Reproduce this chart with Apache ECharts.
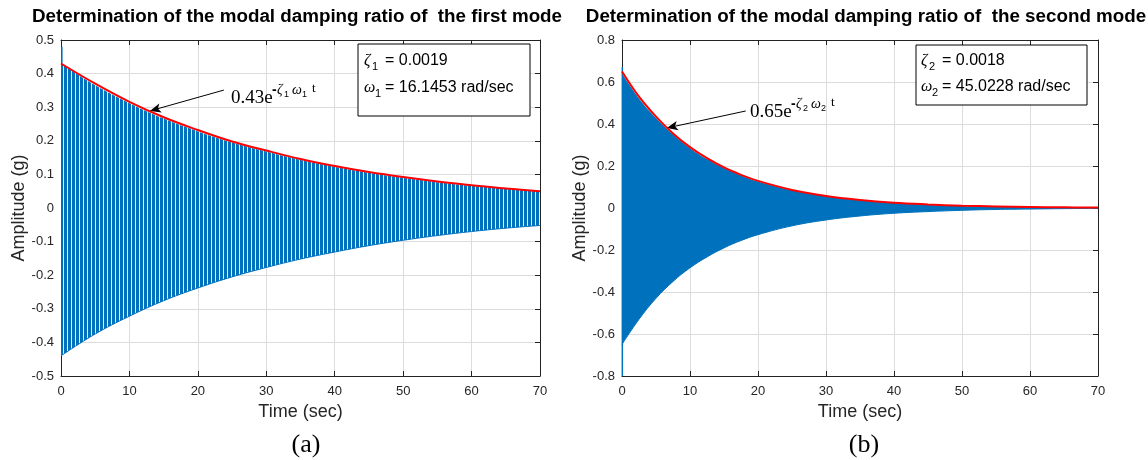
<!DOCTYPE html>
<html>
<head>
<meta charset="utf-8">
<script src="https://cdn.jsdelivr.net/npm/echarts@6/dist/echarts.min.js"></script>
<style>
  html, body { margin: 0; padding: 0; background: #fff; }
  #chart { width: 1148px; height: 460px; }
</style>
</head>
<body>
<div id="chart"></div>
<script>
// (a) first mode - envelope every 5 s
const timeA = [0, 5, 10, 15, 20, 25, 30, 35, 40, 45, 50, 55, 60, 65, 70]
const upperA = [0.43, 0.365, 0.312, 0.266, 0.228, 0.195, 0.168, 0.143, 0.123, 0.105, 0.09, 0.077, 0.066, 0.057, 0.049]
const lowerA = [-0.44, -0.375, -0.322, -0.276, -0.238, -0.205, -0.177, -0.152, -0.131, -0.112, -0.096, -0.082, -0.07, -0.06, -0.052]
const fitA = [0.43, 0.37, 0.316, 0.27, 0.232, 0.198, 0.171, 0.146, 0.125, 0.107, 0.092, 0.079, 0.068, 0.058, 0.05]
const spikeTimeA = [0.12, 0.12]
const spikeValA = [-0.21, 0.48]

// (b) second mode
const timeB = [0, 2.5, 5, 7.5, 10, 12.5, 15, 17.5, 20, 25, 30, 35, 40, 45, 50, 55, 60, 65, 70]
const upperB = [0.64, 0.522, 0.428, 0.35, 0.285, 0.233, 0.19, 0.155, 0.126, 0.084, 0.056, 0.037, 0.024, 0.016, 0.01, 0.007, 0.0045, 0.003, 0.002]
const lowerB = [-0.65, -0.53, -0.43, -0.35, -0.285, -0.233, -0.19, -0.155, -0.127, -0.085, -0.057, -0.038, -0.025, -0.017, -0.011, -0.007, -0.005, -0.003, -0.002]
const fitB = [0.65, 0.53, 0.435, 0.355, 0.29, 0.237, 0.193, 0.158, 0.129, 0.086, 0.057, 0.038, 0.025, 0.017, 0.011, 0.0075, 0.005, 0.0033, 0.0022]
const spikeTimeB = [0.05, 0.05]
const spikeValB = [-0.8, 0.67]

const BLUE = '#0072bd'
const AXIS = '#222'
const GRID = '#dcdcdc'
const SANS = '"Liberation Sans", Arial, sans-serif'
const SERIF = '"Liberation Serif", "Times New Roman", serif'

function pairs(ts, vs) {
  return ts.map((t, i) => [t, vs[i]])
}

// dense oscillation of mode 1 shows up as thin vertical stripes
function stripes() {
  const c = document.createElement('canvas')
  c.width = 4
  c.height = 4
  const ctx = c.getContext('2d')
  ctx.fillStyle = '#eaf2fa'
  ctx.fillRect(0, 0, 4, 4)
  ctx.fillStyle = BLUE
  ctx.fillRect(0, 0, 3, 4)
  return c
}

function xAxes(grid, withName) {
  const base = {
    gridIndex: grid, type: 'value', min: 0, max: 70, interval: 10,
    axisLine: { onZero: false, lineStyle: { color: AXIS, width: 1 } },
    axisTick: { inside: true, length: 5, lineStyle: { color: AXIS } },
  }
  return [
    Object.assign({}, base, {
      position: 'bottom',
      name: withName, nameLocation: 'middle', nameGap: 27,
      nameTextStyle: { fontFamily: SANS, fontSize: 18, color: '#262626' },
      axisLabel: { fontFamily: SANS, fontSize: 13, color: '#262626', margin: 9 },
      splitLine: { show: true, lineStyle: { color: GRID } },
    }),
    Object.assign({}, base, {
      position: 'top', axisLabel: { show: false }, splitLine: { show: false },
    }),
  ]
}

function yAxes(grid, min, max, step) {
  const base = {
    gridIndex: grid, type: 'value', min: min, max: max, interval: step,
    axisLine: { onZero: false, lineStyle: { color: AXIS, width: 1 } },
    axisTick: { inside: true, length: 5, lineStyle: { color: AXIS } },
  }
  return [
    Object.assign({}, base, {
      position: 'left',
      name: 'Amplitude (g)', nameLocation: 'middle', nameGap: 33,
      nameTextStyle: { fontFamily: SANS, fontSize: 18, color: '#262626' },
      axisLabel: { fontFamily: SANS, fontSize: 13, color: '#262626', margin: 7 },
      splitLine: { show: true, lineStyle: { color: GRID } },
    }),
    Object.assign({}, base, {
      position: 'right', axisLabel: { show: false }, splitLine: { show: false },
    }),
  ]
}

function txt(x, y, text, font, align) {
  return {
    type: 'text', x: x, y: y, z: 100,
    style: {
      text: text, font: font, fill: '#000',
      align: align || 'left', verticalAlign: 'middle',
      textAlign: align || 'left', textVerticalAlign: 'middle',
    },
  }
}

// "ζ1 = 0.0019" style line inside the text box
function greekLine(x, y, greek, subDx, sub, rest) {
  return [
    txt(x, y, greek, 'italic 16px ' + SERIF),
    txt(x + subDx, y + 6, sub, '11px ' + SANS),
    txt(x + 21, y, rest, '16px ' + SANS),
  ]
}

// "0.43e^{-ζ1 ω1 t}" label next to the arrow
function expLabel(x, y, coef, sub) {
  return [
    txt(x, y, coef, '19px ' + SERIF),
    txt(x + 41, y - 8, '-', 'bold 14px ' + SANS),
    txt(x + 46, y - 8, 'ζ', 'italic 14px ' + SERIF),
    txt(x + 53, y - 3, sub, '9px ' + SANS),
    txt(x + 61, y - 8, 'ω', 'italic 14px ' + SERIF),
    txt(x + 71, y - 3, sub, '9px ' + SANS),
    txt(x + 81, y - 9, 't', '13px ' + SERIF),
  ]
}

function box(x, y, w, h) {
  return {
    type: 'rect', z: 99,
    shape: { x: x, y: y, width: w, height: h },
    style: { fill: '#fff', stroke: '#000', lineWidth: 1 },
  }
}

function arrow(from, to) {
  return {
    silent: true,
    symbol: ['none', 'arrow'],
    symbolSize: [7, 11],
    label: { show: false },
    lineStyle: { color: '#000', width: 1, type: 'solid' },
    data: [[{ coord: from }, { coord: to }]],
  }
}

const chart = echarts.init(document.getElementById('chart'))
const pat = { image: stripes(), repeat: 'repeat' }

const option = {
  animation: false,
  backgroundColor: '#fff',
  grid: [
    { left: 61, top: 40, width: 479, height: 336 },
    { left: 622, top: 40, width: 476, height: 336 },
  ],
  xAxis: xAxes(0, 'Time (sec)').concat(xAxes(1, 'Time (sec)')),
  yAxis: yAxes(0, -0.5, 0.5, 0.1).concat(yAxes(1, -0.8, 0.8, 0.2)),
  series: [
    {
      type: 'line', xAxisIndex: 0, yAxisIndex: 0, data: pairs(timeA, upperA),
      smooth: 0.4, showSymbol: false, silent: true,
      lineStyle: { width: 0 }, areaStyle: { color: pat, opacity: 1 },
    },
    {
      type: 'line', xAxisIndex: 0, yAxisIndex: 0, data: pairs(timeA, lowerA),
      smooth: 0.4, showSymbol: false, silent: true,
      lineStyle: { color: BLUE, width: 1 }, areaStyle: { color: pat, opacity: 1 },
    },
    {
      type: 'line', xAxisIndex: 0, yAxisIndex: 0, data: pairs(spikeTimeA, spikeValA),
      showSymbol: false, silent: true, lineStyle: { color: BLUE, width: 1.5 },
    },
    {
      type: 'line', xAxisIndex: 0, yAxisIndex: 0, data: pairs(timeA, fitA),
      smooth: 0.4, showSymbol: false, silent: true, z: 5,
      lineStyle: { color: '#ff0000', width: 2 },
      markLine: arrow([23.8, 0.351], [13.0, 0.289]),
    },
    {
      type: 'line', xAxisIndex: 2, yAxisIndex: 2, data: pairs(timeB, upperB),
      smooth: 0.4, showSymbol: false, silent: true,
      lineStyle: { width: 0 }, areaStyle: { color: BLUE, opacity: 1 },
    },
    {
      type: 'line', xAxisIndex: 2, yAxisIndex: 2, data: pairs(timeB, lowerB),
      smooth: 0.4, showSymbol: false, silent: true,
      lineStyle: { color: BLUE, width: 1 }, areaStyle: { color: BLUE, opacity: 1 },
    },
    {
      type: 'line', xAxisIndex: 2, yAxisIndex: 2, data: pairs(spikeTimeB, spikeValB),
      showSymbol: false, silent: true, lineStyle: { color: BLUE, width: 1.5 },
    },
    {
      type: 'line', xAxisIndex: 2, yAxisIndex: 2, data: pairs(timeB, fitB),
      smooth: 0.4, showSymbol: false, silent: true, z: 5,
      lineStyle: { color: '#ff0000', width: 2 },
      markLine: arrow([18.2, 0.462], [6.6, 0.381]),
    },
  ],
  graphic: [
    txt(297, 17, 'Determination of the modal damping ratio of  the first mode', 'bold 18.8px ' + SANS, 'center'),
    txt(866, 17, 'Determination of the modal damping ratio of  the second mode', 'bold 18.8px ' + SANS, 'center'),
    box(358, 44, 172, 72),
    box(916, 45, 171, 60),
  ]
    .concat(greekLine(364, 61, 'ζ', 8, '1', '= 0.0019'))
    .concat(greekLine(364, 88, 'ω', 11, '1', '= 16.1453 rad/sec'))
    .concat(greekLine(921, 61, 'ζ', 8, '2', '= 0.0018'))
    .concat(greekLine(921, 87, 'ω', 11, '2', '= 45.0228 rad/sec'))
    .concat(expLabel(231, 98, '0.43e', '1'))
    .concat(expLabel(750, 112, '0.65e', '2'))
    .concat([
      txt(306, 445, '(a)', '26px ' + SERIF, 'center'),
      txt(864, 445, '(b)', '26px ' + SERIF, 'center'),
    ]),
}

chart.setOption(option)
</script>
</body>
</html>
